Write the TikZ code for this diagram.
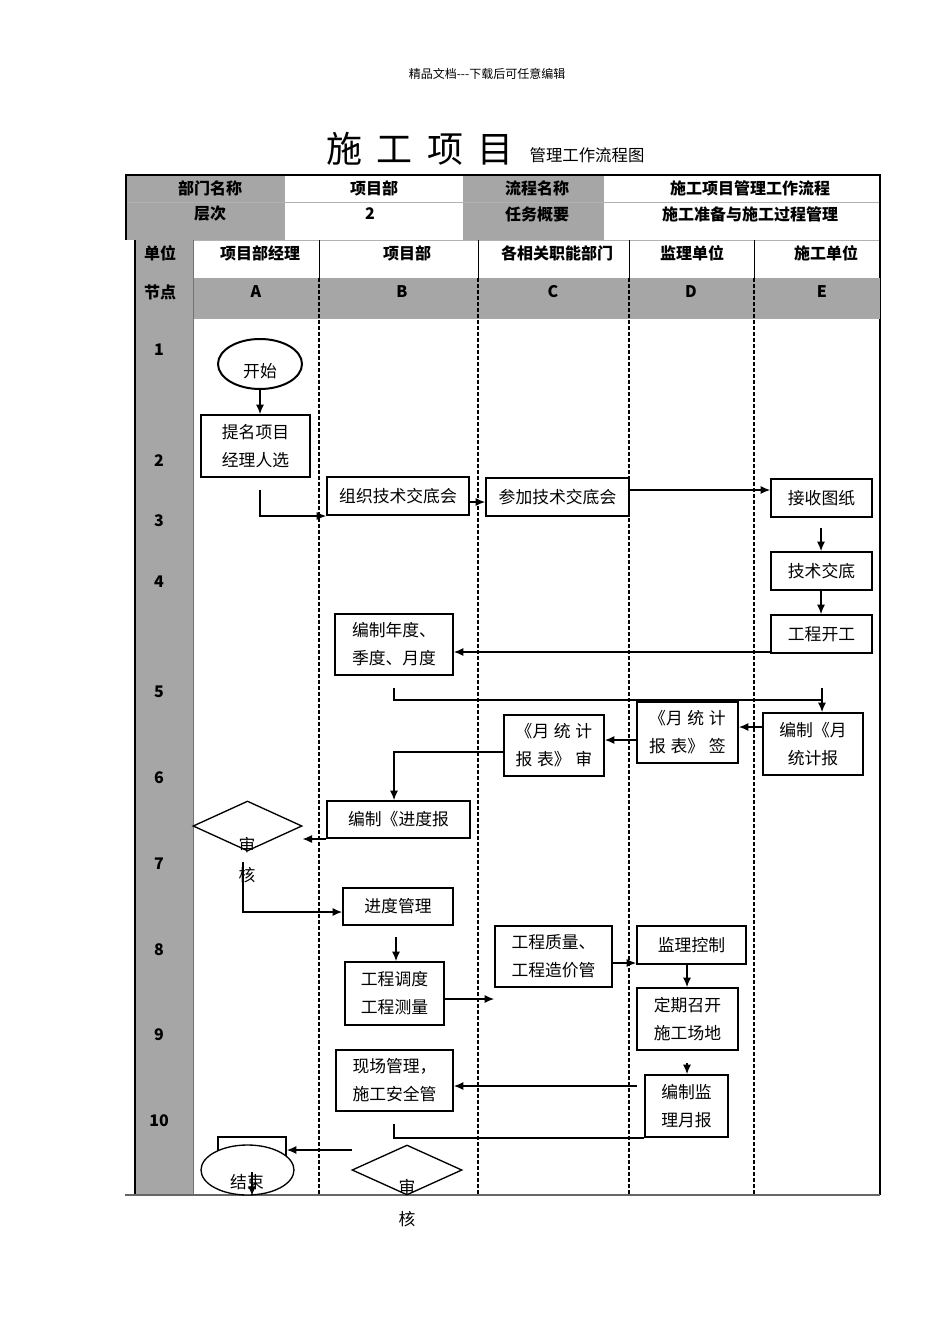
\documentclass[tikz,border=0pt]{standalone}
\usepackage{fontspec}
\setmainfont{Noto Sans CJK SC}
\usetikzlibrary{shapes.geometric,arrows.meta}
\definecolor{cellgray}{RGB}{166,166,166}
\newcommand\myBody{\fontsize{12.6}{21}\selectfont}
\newcommand\myHead{\fontsize{12}{14}\selectfont\bfseries}
\newcommand\gp{\hspace{3.5pt}}
\begin{document}
\begin{tikzpicture}[x=0.75pt,y=-0.75pt,
  box/.style={draw,line width=1.5pt,inner sep=0pt,align=center,font=\myBody},
  sz/.style n args={2}{minimum width=#1*0.75pt,minimum height=#2*0.75pt},
  arr/.style={-{Latex[length=7pt,width=6pt]},line width=0.8pt},
  ln/.style={line width=0.8pt},
  lane/.style={line width=0.8pt,dash pattern=on 3pt off 1.5pt},
  hd/.style={font=\myHead,inner sep=0pt},
  txt/.style={font=\myBody,inner sep=0pt}]
\useasboundingbox (0,0) rectangle (950,1344);
% captions
\node[inner sep=0pt,font=\fontsize{9}{9}\selectfont] (cap) at (487,74) {精品文档-{}-{}-下载后可任意编辑};
\node[inner sep=0pt,font=\fontsize{27}{27}\selectfont] (title) at (420,149) {施\hspace{11pt}工\hspace{11pt}项\hspace{11pt}目};
\node[inner sep=0pt,font=\fontsize{12.3}{12}\selectfont] (subtitle) at (587,155) {管理工作流程图};
% top table
\fill[cellgray] (125,175) rectangle (285,240);
\fill[cellgray] (463,175) rectangle (604,240);
\draw[gray!60,line width=0.6pt] (125,202) -- (880,202);
\draw[gray!60,line width=0.6pt] (135,240) -- (880,240);
\draw[line width=2pt] (126,240) -- (126,175) -- (880,175) -- (880,1195);
% second part
\fill[cellgray] (135,240) rectangle (193,1195);
\fill[cellgray] (193,278) rectangle (880,318);
\draw[gray!70,line width=0.6pt] (135,278) -- (880,278);
\draw[gray!70,line width=0.6pt] (135,318) -- (880,318);
\draw[gray!90!black,line width=0.6pt] (193,240) -- (193,1195);
\foreach \xx in {319,478,629,754}{
  \draw[black,line width=0.6pt] (\xx,240) -- (\xx,278);
  \draw[lane] (\xx,278) -- (\xx,1195);
}
\draw[line width=2pt] (135,240) -- (135,1195);
\draw[gray!80!black,line width=1.2pt] (125,1195) -- (880,1195);
% header texts
\node[hd] (h1) at (210,188) {部门名称};
\node[hd] (h2) at (374,188) {项目部};
\node[hd] (h3) at (537,188) {流程名称};
\node[hd] (h4) at (750,188) {施工项目管理工作流程};
\node[hd] (h5) at (210,214) {层次};
\node[hd] (h6) at (370,214) {2};
\node[hd] (h7) at (537,214) {任务概要};
\node[hd] (h8) at (750,214) {施工准备与施工过程管理};
\node[hd] (u0) at (160,253) {单位};
\node[hd] (u1) at (260,253) {项目部经理};
\node[hd] (u2) at (407,253) {项目部};
\node[hd] (u3) at (557,253) {各相关职能部门};
\node[hd] (u4) at (692,253) {监理单位};
\node[hd] (u5) at (826,253) {施工单位};
\node[hd] (n0) at (160,292) {节点};
\node[hd] (nA) at (256,292) {A};
\node[hd] (nB) at (402,292) {B};
\node[hd] (nC) at (553,292) {C};
\node[hd] (nD) at (691,292) {D};
\node[hd] (nE) at (822,292) {E};
\foreach \nn/\yy in {1/350,2/461,3/521,4/582,5/692,6/778,7/864,8/950,9/1035,10/1121}{
  \node[hd] (r\nn) at (159,\yy) {\nn};
}
% flow nodes
\node[draw,ellipse,line width=1.5pt,sz={84}{50}] (start) at (260,364) {};
\node[txt] (starttxt) at (260,371) {开始};
\node[box,sz={109}{62}] (tm) at (255.5,446) {提名项目\\经理人选};
\node[box,sz={142}{38}] (org) at (398,496) {组织技术交底会};
\node[box,sz={143}{38}] (join) at (557.5,497) {参加技术交底会};
\node[box,sz={101}{38}] (recv) at (821.5,498) {接收图纸};
\node[box,sz={101}{38}] (tech) at (821.5,571) {技术交底};
\node[box,sz={101}{38}] (kg) at (821.5,634) {工程开工};
\node[box,sz={118}{61}] (plan) at (394,644.5) {编制年度、\\季度、月度};
\node[box,sz={100}{62}] (mrep) at (813,744) {编制《月\\统计报};
\node[box,sz={101}{61}] (msign) at (687.5,732.5) {《月\gp 统\gp 计\\报\gp 表》\gp 签};
\node[box,sz={100}{61}] (maud) at (554,745.5) {《月\gp 统\gp 计\\报\gp 表》\gp 审};
\node[box,sz={143}{37}] (prog) at (398.5,819.5) {编制《进度报};
\node[draw,diamond,line width=1pt,inner sep=0pt,sz={109}{50}] (dia1) at (247.5,826) {};
\node[txt] (d1a) at (247,845) {审};
\node[txt] (d1b) at (247,875) {核};
\node[box,sz={110}{37}] (pm) at (398,906.5) {进度管理};
\node[box,sz={99}{63}] (sched) at (394.5,993.5) {工程调度\\工程测量};
\node[box,sz={117}{61}] (qual) at (553.5,956.5) {工程质量、\\工程造价管};
\node[box,sz={109}{38}] (sup) at (691.5,945) {监理控制};
\node[box,sz={101}{62}] (meet) at (687.5,1019) {定期召开\\施工场地};
\node[box,sz={83}{62}] (mm) at (686.5,1106) {编制监\\理月报};
\node[box,sz={117}{61}] (site) at (394.5,1080.5) {现场管理，\\施工安全管};
\node[draw,line width=1.5pt,inner sep=0pt,sz={68}{25}] (srect) at (252,1149.5) {};
\node[draw,ellipse,fill=white,line width=1pt,sz={93}{50}] (endn) at (247.5,1170) {};
\node[txt] (endtxt) at (247,1182) {结束};
\node[draw,diamond,line width=1pt,inner sep=0pt,sz={110}{50}] (dia2) at (407,1170) {};
\node[txt] (d2a) at (407,1187) {审};
\node[txt] (d2b) at (407,1219) {核};
% connectors
\coordinate (c1) at (260,490);
\coordinate (c2) at (394,688);
\coordinate (c3) at (822,688);
\coordinate (c4) at (243,862);
\coordinate (c5) at (394,1124);
\coordinate (c6) at (396,937);
\coordinate (c7) at (494,999);
\coordinate (c8) at (637,1086);
\coordinate (c9) at (352,1150);
\coordinate (c10) at (252,1172);
\coordinate (c11) at (821,528);
\coordinate (c12) at (687,1063);
\draw[arr] (start.south) -- (start.south |- tm.north);
\draw[arr] (c1) |- (org.south west);
\draw[arr] (org.east |- 0,502) -- (join.west |- 0,502);
\draw[arr] (join.east |- 0,490) -- (recv.west |- 0,490);
\draw[arr] (c11) -- (c11 |- tech.north);
\draw[arr] (tech.south -| c11) -- (kg.north -| c11);
\draw[arr] (kg.west |- 0,652) -- (plan.east |- 0,652);
\draw[ln] (c2) |- (822,700);
\draw[arr] (c3) -- (c3 |- mrep.north);
\draw[arr] (mrep.west |- 0,727) -- (msign.east |- 0,727);
\draw[arr] (msign.west |- 0,740) -- (maud.east |- 0,740);
\draw[arr] (maud.west |- 0,752) -| (prog.north -| 394,0);
\draw[arr] (prog.south west) -- (prog.south west -| dia1.east);
\draw[arr] (c4) |- (pm.west |- 0,912);
\draw[arr] (c6) -- (sched.north -| c6);
\draw[arr] (sched.east |- 0,999) -- (c7);
\draw[arr] (qual.east |- 0,963) -- (sup.west |- 0,963);
\draw[arr] (sup.south -| 687,0) -- (meet.north -| 687,0);
\draw[arr] (c12) -- (mm.north -| c12);
\draw[arr] (c8) -- (site.east |- c8);
\draw[ln] (c5) |- (mm.south west);
\draw[arr] (c9) -- (srect.east |- c9);
\draw[arr] (c10) -- (c10 |- endn.south);
\end{tikzpicture}
\end{document}
